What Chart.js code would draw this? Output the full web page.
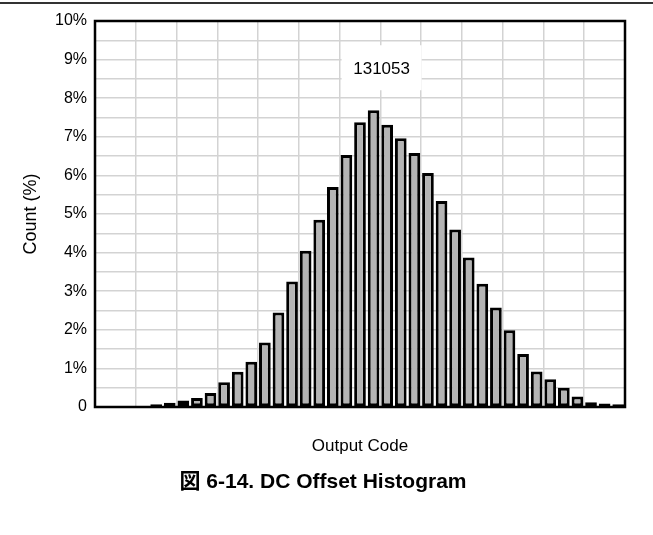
<!DOCTYPE html>
<html>
<head>
<meta charset="utf-8">
<script src="https://cdn.jsdelivr.net/npm/chart.js@4.4.1/dist/chart.umd.min.js"></script>
<style>
  html, body { margin: 0; padding: 0; background: #fff; }
  #wrap { position: relative; width: 653px; height: 535px; }
  #topLine { position: absolute; left: 0; top: 2px; width: 653px; height: 2px; background: #333; }
  #caption {
    position: absolute; left: 0; top: 464px; width: 646px; text-align: center;
    font: bold 21px "Liberation Sans", Arial, "Noto Sans CJK JP", sans-serif; color: #000;
  }
</style>
</head>
<body>
<div id="wrap">
  <canvas id="histo" width="653" height="535"></canvas>
  <div id="topLine"></div>
  <div id="caption">図 6-14. DC Offset Histogram</div>
</div>
<script>
// valores (porcentaje por codigo)
var codes = [
  '131033', '131034', '131035', '131036', '131037', '131038', '131039', '131040',
  '131041', '131042', '131043', '131044', '131045', '131046', '131047', '131048',
  '131049', '131050', '131051', '131052', '131053', '131054', '131055', '131056',
  '131057', '131058', '131059', '131060', '131061', '131062', '131063', '131064',
  '131065', '131066', '131067', '131068', '131069', '131070', '131071'
];
var counts = [
  0.005, 0.005, 0.01, 0.02, 0.07, 0.11, 0.17, 0.23, 0.36, 0.64,
  0.91, 1.17, 1.67, 2.45, 3.25, 4.05, 4.85, 5.70, 6.53, 7.38,
  7.69, 7.31, 6.96, 6.58, 6.06, 5.34, 4.60, 3.87, 3.19, 2.58,
  1.99, 1.37, 0.92, 0.72, 0.50, 0.27, 0.12, 0.09, 0.07
];
var peakCode = '131053';
var peakLabelY = 8.75;
var yMax = 10;
var yStep = 0.5;

var FONT = '"Liberation Sans", Arial, sans-serif';

// caja con el codigo pico
var peakLabelPlugin = {
  id: 'peakLabel',
  afterDatasetsDraw: function (chart) {
    var ctx = chart.ctx;
    var xs = chart.scales.x, ys = chart.scales.y;
    var cx = xs.getPixelForValue(codes.indexOf(peakCode)) + 8;
    var cy = ys.getPixelForValue(peakLabelY);
    ctx.save();
    ctx.fillStyle = '#fff';
    ctx.fillRect(cx - 40, cy - 24, 80, 45);
    ctx.fillStyle = '#000';
    ctx.font = '17px ' + FONT;
    ctx.textAlign = 'center';
    ctx.textBaseline = 'middle';
    ctx.fillText(peakCode, cx, cy);
    ctx.restore();
  }
};

// marco negro del area de trazado
var framePlugin = {
  id: 'frame',
  afterDraw: function (chart) {
    var a = chart.chartArea, ctx = chart.ctx;
    ctx.save();
    ctx.strokeStyle = '#000';
    ctx.lineWidth = 2.5;
    ctx.strokeRect(a.left, a.top, a.right - a.left, a.bottom - a.top);
    ctx.restore();
  }
};

new Chart(document.getElementById('histo'), {
  type: 'bar',
  data: {
    labels: codes,
    datasets: [{
      label: 'Count',
      data: counts,
      backgroundColor: '#b4b4b4',
      borderColor: '#000',
      borderWidth: 3,
      borderSkipped: false,
      barPercentage: 0.86,
      categoryPercentage: 1.0
    }]
  },
  options: {
    responsive: false,
    animation: false,
    layout: { padding: { left: 0, top: 21, right: 28, bottom: 0 } },
    plugins: {
      legend: { display: false },
      tooltip: { enabled: false }
    },
    scales: {
      x: {
        type: 'category',
        border: { display: false },
        grid: {
          offset: true,
          drawTicks: false,
          lineWidth: 1.5,
          color: function (c) {
            if (c.index === undefined) return 'rgba(0,0,0,0)';
            return (c.index > 0 && c.index % 3 === 0) ? '#d3d3d3' : 'rgba(0,0,0,0)';
          }
        },
        ticks: { display: false, autoSkip: false },
        title: {
          display: true,
          text: 'Output Code',
          color: '#000',
          font: { family: FONT, size: 17 },
          padding: { top: 0, bottom: 78 }
        },
        afterFit: function (s) { s.height = 128; }
      },
      y: {
        min: 0,
        max: yMax,
        border: { display: false },
        grid: { color: '#d3d3d3', lineWidth: 1.5, drawTicks: false },
        ticks: {
          stepSize: yStep,
          autoSkip: false,
          padding: 8,
          color: '#000',
          font: { family: FONT, size: 16 },
          callback: function (v) {
            if (v === 0) return '0';
            return (Math.abs(v % 1) < 1e-9) ? v + '%' : '';
          }
        },
        title: {
          display: true,
          text: 'Count (%)',
          color: '#000',
          font: { family: FONT, size: 18 },
          padding: { top: 20, bottom: 0 }
        },
        afterFit: function (s) { s.width = 95; }
      }
    }
  },
  plugins: [peakLabelPlugin, framePlugin]
});
</script>
</body>
</html>
